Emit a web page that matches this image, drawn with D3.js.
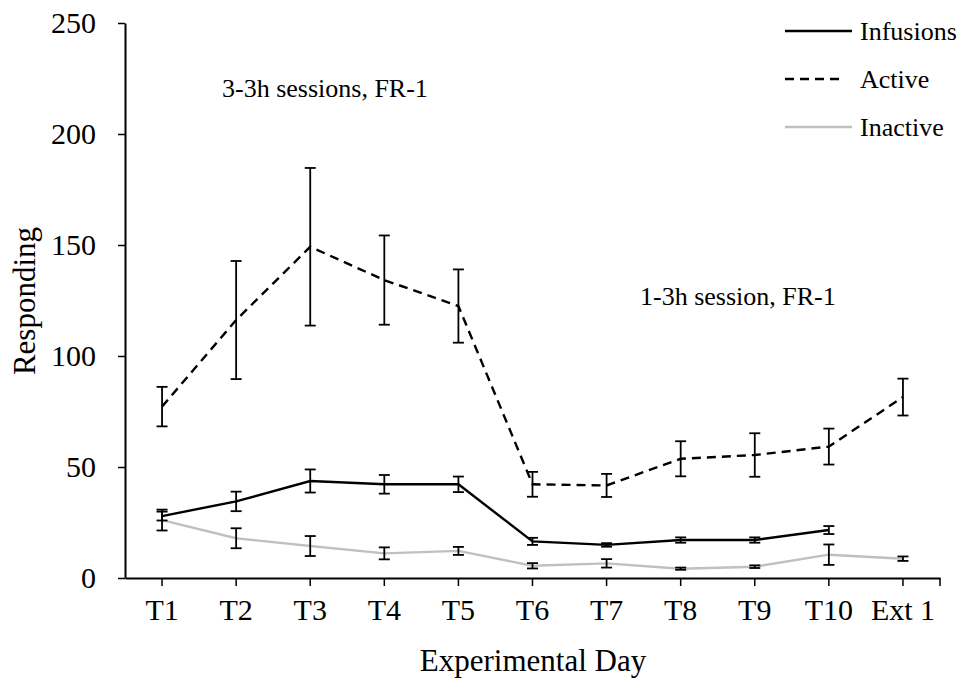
<!DOCTYPE html>
<html>
<meta charset="utf-8">
<style>
body { margin: 0; background: #fff; }
text { font-family: "Liberation Serif", "Times New Roman", serif; }
</style>
<script src="https://d3js.org/d3.v7.min.js"></script>
<body>
<div id="my_dataviz"></div>
<script>
// categories and values
var days = ["T1", "T2", "T3", "T4", "T5", "T6", "T7", "T8", "T9", "T10", "Ext 1"];
var yTicks = [0, 50, 100, 150, 200, 250];

var infusions    = [27.9, 34.5, 43.7, 42.2, 42.2, 16.5, 14.9, 17.1, 17.1, 21.6, null];
var infusionsErr = [2.0, 4.4, 5.2, 4.2, 3.5, 1.6, 0.8, 1.2, 1.2, 1.8, null];
var active       = [77.2, 116.2, 149.2, 134.2, 122.5, 42.2, 41.7, 53.7, 55.4, 59.2, 81.5];
var activeErr    = [8.9, 26.6, 35.5, 20.1, 16.5, 5.6, 5.2, 7.9, 9.8, 8.1, 8.3];
var inactive     = [26.1, 17.9, 14.4, 11.1, 12.2, 5.5, 6.6, 4.2, 5.1, 10.5, 8.7];
var inactiveErr  = [4.7, 4.5, 4.5, 2.7, 1.8, 1.2, 1.9, 0.5, 0.6, 4.6, 1.0];

var series = [
  {name: "Infusions", values: infusions, err: infusionsErr, color: "#000", dash: null},
  {name: "Active", values: active, err: activeErr, color: "#000", dash: "9,6"},
  {name: "Inactive", values: inactive, err: inactiveErr, color: "#c0c0c0", dash: null}
];

var W = 961, H = 681;
var svg = d3.select("#my_dataviz").append("svg")
  .attr("width", W).attr("height", H);

var x = d3.scaleBand().domain(days).range([125, 940]);
var y = d3.scaleLinear().domain([0, 250]).range([578, 23]);
function cx(d) { return x(d) + x.bandwidth() / 2; }

// Y axis
var yAxis = svg.append("g").attr("transform", "translate(125,0)")
  .call(d3.axisLeft(y).tickValues(yTicks).tickSize(7).tickSizeOuter(0).tickPadding(22));
yAxis.select(".domain").attr("stroke-width", 2);
yAxis.selectAll(".tick line").attr("stroke-width", 1.5);
yAxis.selectAll("text").attr("font-size", 30).attr("fill", "#000")
  .attr("font-family", "Liberation Serif");

// X axis
var xAxis = svg.append("g").attr("transform", "translate(0,578)")
  .call(d3.axisBottom(x).tickSize(8).tickSizeOuter(0).tickPadding(13));
xAxis.select(".domain").attr("stroke-width", 2);
xAxis.selectAll(".tick line").attr("stroke-width", 1.5);
xAxis.selectAll("text").attr("font-size", 30).attr("fill", "#000")
  .attr("font-family", "Liberation Serif");
xAxis.append("line").attr("x1", 940).attr("x2", 940).attr("y1", 0).attr("y2", 8)
  .attr("stroke", "#000").attr("stroke-width", 1.5);

// lines
series.forEach(function(s) {
  var pts = days.map(function(d, i) { return {d: d, v: s.values[i], e: s.err[i]}; })
    .filter(function(p) { return p.v !== null; });
  svg.append("path").datum(pts)
    .attr("fill", "none")
    .attr("stroke", s.color)
    .attr("stroke-width", 2.4)
    .attr("stroke-dasharray", s.dash)
    .attr("d", d3.line().x(function(p) { return cx(p.d); }).y(function(p) { return y(p.v); }));
  s.pts = pts;
});

// error bars (all black)
series.forEach(function(s) {
  var g = svg.append("g").attr("stroke", "#000").attr("stroke-width", 1.8);
  s.pts.forEach(function(p) {
    var xc = cx(p.d), y1 = y(p.v + p.e), y2 = y(p.v - p.e);
    g.append("line").attr("x1", xc).attr("x2", xc).attr("y1", y1).attr("y2", y2);
    g.append("line").attr("x1", xc - 5.5).attr("x2", xc + 5.5).attr("y1", y1).attr("y2", y1);
    g.append("line").attr("x1", xc - 5.5).attr("x2", xc + 5.5).attr("y1", y2).attr("y2", y2);
  });
});

// legend
series.forEach(function(s, i) {
  var ly = 31 + i * 48;
  svg.append("line").attr("x1", 785).attr("x2", s.dash ? 841 : 852).attr("y1", ly).attr("y2", ly)
    .attr("stroke", s.color).attr("stroke-width", 2.4).attr("stroke-dasharray", s.dash);
  svg.append("text").attr("x", 860).attr("y", ly + 9).attr("font-size", 26).text(s.name);
});

// annotations
svg.append("text").attr("x", 222).attr("y", 97).attr("font-size", 26).text("3-3h sessions, FR-1");
svg.append("text").attr("x", 640).attr("y", 305).attr("font-size", 26).text("1-3h session, FR-1");

// axis titles
svg.append("text").attr("text-anchor", "middle").attr("font-size", 31)
  .attr("transform", "translate(35,301) rotate(-90)").text("Responding");
svg.append("text").attr("x", 533).attr("y", 671).attr("text-anchor", "middle")
  .attr("font-size", 31).text("Experimental Day");
</script>
</body>
</html>
